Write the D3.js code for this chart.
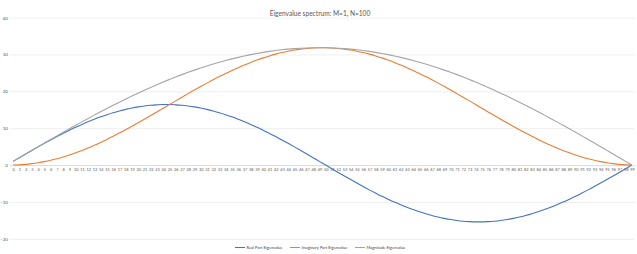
<!DOCTYPE html>
<html><head><meta charset="utf-8">
<script src="https://cdn.jsdelivr.net/npm/d3@7"></script>
<style>body{margin:0;background:#fff}svg{display:block}text{font-family:Lato,"Liberation Sans",sans-serif}</style>
</head><body><svg id="c" width="637" height="254"></svg>
<script>
const title = "Eigenvalue spectrum: M=1, N=100";
const categories = [0,1,2,3,4,5,6,7,8,9,10,11,12,13,14,15,16,17,18,19,20,21,22,23,24,25,26,27,28,29,30,31,32,33,34,35,36,37,38,39,40,41,42,43,44,45,46,47,48,49,50,51,52,53,54,55,56,57,58,59,60,61,62,63,64,65,66,67,68,69,70,71,72,73,74,75,76,77,78,79,80,81,82,83,84,85,86,87,88,89,90,91,92,93,94,95,96,97,98,99];
const realPart = [1.00,2.00,2.99,3.97,4.94,5.89,6.82,7.73,8.60,9.45,10.25,11.03,11.75,12.44,13.08,13.66,14.20,14.68,15.11,15.47,15.78,16.03,16.22,16.34,16.41,16.41,16.34,16.22,16.03,15.78,15.47,15.11,14.68,14.20,13.66,13.08,12.44,11.75,11.03,10.25,9.45,8.60,7.73,6.82,5.89,4.94,3.97,2.99,2.00,1.00,0.00,-1.00,-1.99,-2.97,-3.94,-4.89,-5.82,-6.73,-7.60,-8.45,-9.25,-10.03,-10.75,-11.44,-12.08,-12.66,-13.20,-13.68,-14.11,-14.47,-14.78,-15.03,-15.22,-15.34,-15.41,-15.41,-15.34,-15.22,-15.03,-14.78,-14.47,-14.11,-13.68,-13.20,-12.66,-12.08,-11.44,-10.75,-10.03,-9.25,-8.45,-7.60,-6.73,-5.82,-4.89,-3.94,-2.97,-1.99,-1.00,0.00];
const imagPart = [0.00,0.06,0.19,0.38,0.62,0.93,1.30,1.73,2.21,2.74,3.33,3.97,4.65,5.38,6.15,6.96,7.81,8.68,9.59,10.52,11.47,12.44,13.42,14.41,15.41,16.41,17.41,18.40,19.38,20.35,21.30,22.23,23.13,24.01,24.85,25.66,26.43,27.16,27.85,28.48,29.07,29.61,30.09,30.51,30.88,31.19,31.44,31.63,31.75,31.82,31.82,31.75,31.63,31.44,31.19,30.88,30.51,30.09,29.61,29.07,28.48,27.85,27.16,26.43,25.66,24.85,24.01,23.13,22.23,21.30,20.35,19.38,18.40,17.41,16.41,15.41,14.41,13.42,12.44,11.47,10.52,9.59,8.68,7.81,6.96,6.15,5.38,4.65,3.97,3.33,2.74,2.21,1.73,1.30,0.93,0.62,0.38,0.19,0.06,0.00];
const magnitude = [1.00,2.00,3.00,3.99,4.98,5.96,6.94,7.92,8.88,9.84,10.78,11.72,12.64,13.55,14.45,15.33,16.20,17.06,17.89,18.71,19.51,20.29,21.05,21.79,22.51,23.20,23.88,24.53,25.15,25.75,26.33,26.88,27.40,27.89,28.36,28.80,29.21,29.60,29.95,30.27,30.57,30.83,31.06,31.27,31.44,31.58,31.69,31.77,31.82,31.83,31.82,31.77,31.69,31.58,31.44,31.27,31.06,30.83,30.57,30.27,29.95,29.60,29.21,28.80,28.36,27.89,27.40,26.88,26.33,25.75,25.15,24.53,23.88,23.20,22.51,21.79,21.05,20.29,19.51,18.71,17.89,17.06,16.20,15.33,14.45,13.55,12.64,11.72,10.78,9.84,8.88,7.92,6.94,5.96,4.98,3.99,3.00,2.00,1.00,0];
const yTicks = [-20,-10,0,10,20,30,40];
const seriesNames = ["Real Part Eigenvalue","Imaginary Part Eigenvalue","Magnitude Eigenvalue"];
const seriesColors = ["#4472C4","#ED7D31","#A5A5A5"];
const seriesData = [realPart, imagPart, magnitude];

const svg = d3.select("#c");
const x = d3.scalePoint().domain(categories).range([10,635]).padding(0.5);
const y = d3.scaleLinear().domain([-20,40]).range([238.8,17.6]);

svg.append("text").attr("x",320).attr("y",16).attr("text-anchor","middle")
  .attr("font-size",6.6).attr("fill","#595959").text(title);

const yAxis = d3.axisLeft(y).tickValues(yTicks).tickSize(-625).tickPadding(3);
const gy = svg.append("g").attr("transform","translate(10,0)").call(yAxis);
gy.select(".domain").remove();
gy.selectAll(".tick line").attr("stroke","#E4E4E4").attr("stroke-width",0.6);
gy.selectAll(".tick text").attr("font-size",4.6).attr("fill","#595959").attr("x",-2);

const xAxis = d3.axisBottom(x).tickSize(0).tickPadding(3);
const gx = svg.append("g").attr("transform",`translate(0,${y(0)})`).call(xAxis);
gx.select(".domain").attr("stroke","#D0D0D0").attr("stroke-width",0.6);
gx.selectAll(".tick text").attr("font-size",3.9).attr("fill","#595959");

const line = d3.line().x((d,i)=>x(categories[i])).y(d=>y(d)).curve(d3.curveMonotoneX);
seriesData.forEach((s,k)=>{
  svg.append("path").datum(s).attr("d",line).attr("fill","none")
    .attr("stroke",seriesColors[k]).attr("stroke-width",1.1).attr("stroke-linejoin","round");
});

const legX = [235,290,355];
const legW = [36,46,39];
const lg = svg.append("g");
seriesNames.forEach((n,k)=>{
  lg.append("line").attr("x1",legX[k]).attr("x2",legX[k]+10).attr("y1",247.5).attr("y2",247.5)
    .attr("stroke",seriesColors[k]).attr("stroke-width",1.1);
  lg.append("text").attr("x",legX[k]+11.5).attr("y",249).attr("font-size",4.6).attr("fill","#404040")
    .attr("textLength",legW[k]).attr("lengthAdjust","spacingAndGlyphs").text(n);
});
</script></body></html>
